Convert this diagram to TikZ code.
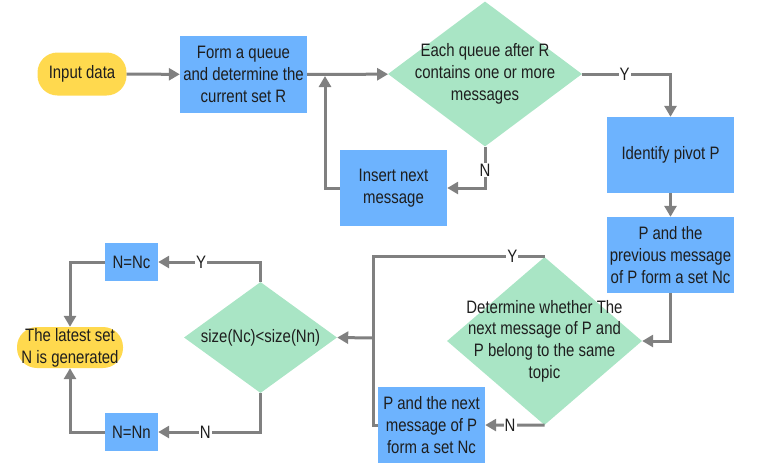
\documentclass[tikz,border=0pt]{standalone}
\usepackage{fontspec}
\setmainfont{Liberation Sans}[FakeStretch=0.83]
\usetikzlibrary{shapes.geometric,arrows.meta}
\definecolor{boxblue}{HTML}{6DB3FE}
\definecolor{pillyellow}{HTML}{FFD94E}
\definecolor{decgreen}{HTML}{A9E5C5}
\definecolor{linegray}{HTML}{808080}
\definecolor{inkgray}{HTML}{1E1E1E}

\begin{document}
\begin{tikzpicture}[x=1pt, y=-1pt,
    every node/.style={font=\fontsize{18}{21.7}\selectfont, text=inkgray, align=center},
    proc/.style={rectangle, fill=boxblue, inner sep=0pt},
    term/.style={rectangle, rounded corners=20pt, fill=pillyellow, inner sep=0pt},
    decide/.style={diamond, fill=decgreen, inner sep=0pt},
    flow/.style={draw=linegray, line width=3pt, -{Triangle[length=11pt,width=12pt]}},
    wire/.style={draw=linegray, line width=3pt},
    yn/.style={fill=white, inner sep=1pt}]
  \useasboundingbox (0,0) rectangle (757,464);

  % top row
  \node[term, minimum width=89pt, minimum height=43pt] (in) at (82,74) {Input data};
  \node[proc, minimum width=127pt, minimum height=77pt] (form) at (243.5,74.5) {Form a queue\\and determine the\\current set R};
  \node[decide, minimum width=194pt, minimum height=145pt] (q1) at (485,74) {};
  \node at (q1) {Each queue after R\\contains one or more\\messages};
  \node[proc, minimum width=107pt, minimum height=76pt] (ins) at (393.5,188) {Insert next\\message};

  % right column
  \node[proc, minimum width=127pt, minimum height=76pt] (pivot) at (670.5,155) {Identify pivot P};
  \node[proc, minimum width=127pt, minimum height=76pt] (prev) at (670.5,255) {P and the\\previous message\\of P form a set Nc};
  \node[decide, minimum width=195pt, minimum height=168pt] (q2) at (544.5,341) {};
  \node at (q2) {Determine whether The\\next message of P and\\P belong to the same\\topic};
  \node[proc, minimum width=107pt, minimum height=76pt] (next) at (431.5,425) {P and the next\\message of P\\form a set Nc};

  % bottom left
  \node[decide, minimum width=153pt, minimum height=111pt] (q3) at (260.5,337.5) {};
  \node at (q3) {size(Nc)<size(Nn)};
  \node[proc, minimum width=53pt, minimum height=38pt] (nc) at (131.5,262) {N=Nc};
  \node[proc, minimum width=53pt, minimum height=38pt] (nn) at (131.5,432) {N=Nn};
  \node[term, minimum width=106pt, minimum height=41pt] (last) at (70,347.5) {The latest set\\N is generated};

  \coordinate (back) at (325,76);
  \coordinate (join) at (373,338);

  \draw[flow] (in) -- (form);
  \draw[flow] (form) -- (q1);
  \draw[flow] (q1.east) -| node[yn, pos=0.24] {Y} (pivot.north);
  \draw[flow] (q1.south) |- node[yn, pos=0.28] {N} (ins.east);
  \draw[flow] (ins.west) -| (back);
  \draw[flow] (pivot) -- (prev);
  \draw[flow] (prev.south) |- (q2.east);
  \draw[wire] (q2.north) -| node[yn, pos=0.094] {Y} (join);
  \draw[flow] (q2.south) -- node[yn, pos=0.58] {N} (next.east);
  \draw[wire] (next.west) -| (join);
  \draw[flow] (join) -- (q3.east);
  \draw[flow] (q3.north) |- node[yn, pos=0.79] {Y} (nc.east);
  \draw[flow] (q3.south) |- node[yn, pos=0.77] {N} (nn.east);
  \draw[flow] (nc.west) -| (last.north);
  \draw[flow] (nn.west) -| (last.south);
\end{tikzpicture}
\end{document}
